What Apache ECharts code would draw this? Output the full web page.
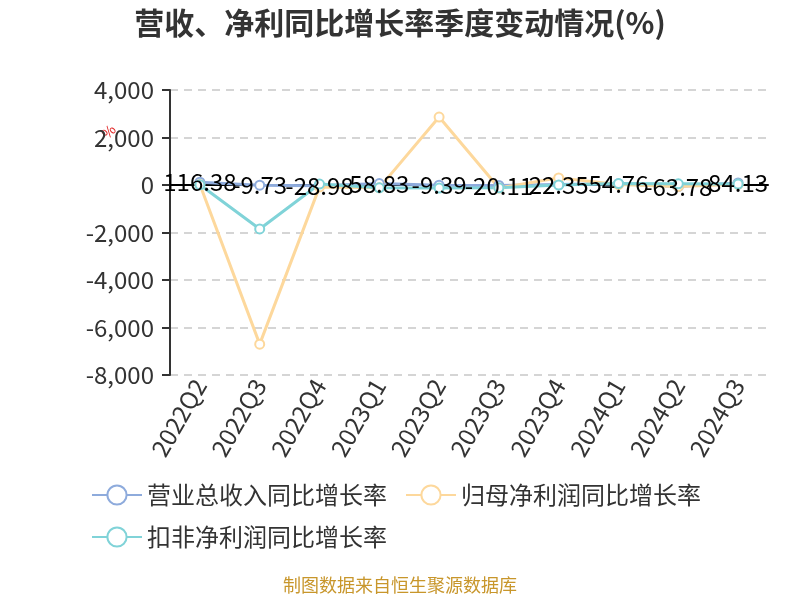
<!DOCTYPE html>
<html>
<head>
<meta charset="utf-8">
<script src="https://cdn.jsdelivr.net/npm/echarts@6/dist/echarts.min.js"></script>
<style>
  html, body { margin: 0; padding: 0; background: #fff; }
  #chart { width: 800px; height: 600px; }
</style>
</head>
<body>
<div id="chart"></div>
<script>
// quarters on x axis
const categories = ["2022Q2", "2022Q3", "2022Q4", "2023Q1", "2023Q2", "2023Q3", "2023Q4", "2024Q1", "2024Q2", "2024Q3"];
// 营业总收入同比增长率
const revenueGrowth = [116.38, -9.73, -28.98, 58.83, -9.39, -20.11, 22.35, 54.76, -63.78, 84.13];
// 归母净利润同比增长率
const netProfitGrowth = [20, -6700, -80, -120, 2860, -130, 300, 20, -60, 30];
// 扣非净利润同比增长率
const deductedProfitGrowth = [10, -1850, 40, -120, -130, -120, 0, 60, 50, 40];
const yTicks = { min: -8000, max: 4000, interval: 2000 };

const colors = ["#8eabdc", "#fdd89c", "#80d3d8"];
const font = "'Noto Sans CJK SC', 'Noto Sans', sans-serif";

const chart = echarts.init(document.getElementById("chart"));

const lineSeries = (name, data, showLabel) => ({
  name: name,
  type: "line",
  data: data,
  symbol: "emptyCircle",
  symbolSize: 9,
  lineStyle: { width: 3 },
  itemStyle: { borderWidth: 2 },
  label: {
    show: showLabel,
    position: "inside",
    color: "#000",
    fontSize: 24,
    fontFamily: font,
  },
});

chart.setOption({
  color: colors,
  animation: false,
  title: {
    text: "营收、净利同比增长率季度变动情况(%)",
    left: "center",
    top: 3,
    textStyle: { fontSize: 30, fontWeight: "bold", color: "#333", fontFamily: font },
  },
  grid: { left: 170, right: 32, top: 90, bottom: 225, containLabel: false, outerBoundsMode: "none" },
  legend: {
    top: 478,
    left: 86,
    width: 660,
    itemWidth: 50,
    itemHeight: 24,
    itemGap: 18,
    textStyle: { fontSize: 24, color: "#333", fontFamily: font, padding: [0, 12, 0, 0] },
  },
  xAxis: {
    type: "category",
    data: categories,
    axisLine: { lineStyle: { color: "#000", width: 2 } },
    axisTick: { lineStyle: { color: "#000", width: 2 }, length: 8 },
    axisLabel: { rotate: 60, fontSize: 24, color: "#333", fontFamily: font, margin: 6 },
  },
  yAxis: {
    type: "value",
    min: yTicks.min,
    max: yTicks.max,
    interval: yTicks.interval,
    axisLine: { show: true, lineStyle: { color: "#333", width: 2 } },
    axisTick: { show: true, length: 8, lineStyle: { color: "#333", width: 2 } },
    axisLabel: { fontSize: 24, color: "#333", fontFamily: font, margin: 16 },
    splitLine: { lineStyle: { type: [8, 6], color: "#c8c8c8", width: 1.5 } },
  },
  graphic: [
    {
      type: "text",
      left: 400 - 117,
      top: 576,
      style: { text: "制图数据来自恒生聚源数据库", fill: "#c8962b", fontSize: 18, fontFamily: font },
    },
    {
      type: "text",
      x: 99,
      y: 131,
      rotation: Math.PI / 4,
      style: { text: "%", fill: "#e02020", fontSize: 14, fontFamily: font },
    },
  ],
  series: [
    lineSeries("营业总收入同比增长率", revenueGrowth, true),
    lineSeries("归母净利润同比增长率", netProfitGrowth, false),
    lineSeries("扣非净利润同比增长率", deductedProfitGrowth, false),
  ],
});
</script>
</body>
</html>
